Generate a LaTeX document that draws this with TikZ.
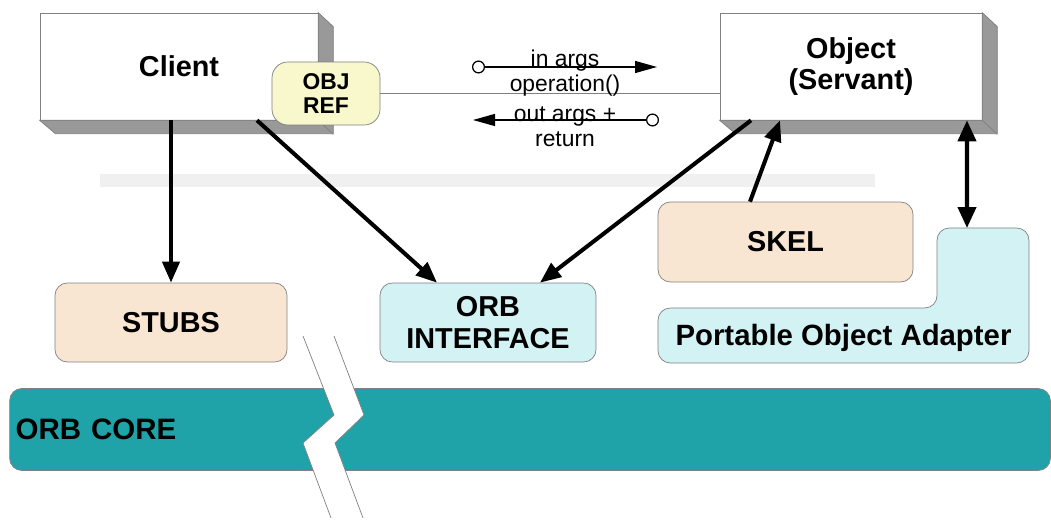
\documentclass[tikz,border=0pt]{standalone}
\usepackage{fontspec}
\setmainfont{Liberation Sans}
\usetikzlibrary{arrows.meta,positioning,calc}

\definecolor{tanfill}{HTML}{F8E6D2}
\definecolor{cyanfill}{HTML}{D2F2F4}
\definecolor{reffill}{HTML}{F8F8CC}
\definecolor{corefill}{HTML}{20A3A8}
\definecolor{sidegray}{HTML}{999999}
\definecolor{edgegray}{HTML}{808080}

\tikzstyle{obj} = [rectangle, draw=edgegray, fill=white, inner sep=0pt,
    align=center, font=\fontsize{16.4}{18}\selectfont\bfseries]
\tikzstyle{block} = [rectangle, draw=edgegray, rounded corners=7pt, inner sep=0pt,
    align=center, font=\fontsize{16.4}{18}\selectfont\bfseries]
\tikzstyle{line} = [draw, line width=2.3pt, -{Triangle[length=0.42cm,width=0.34cm]}]
\tikzstyle{msg} = [draw, line width=0.7pt,
    {Circle[open,length=0.26cm]}-{Triangle[length=0.44cm,width=0.24cm]}]
\tikzstyle{msglabel} = [align=center, inner sep=0pt, font=\fontsize{13}{14.2}\selectfont]

\begin{document}
\begin{tikzpicture}[x=0.02cm, y=-0.02cm]
    \useasboundingbox (0,0) rectangle (1051,520);
    \fill[black!6] (100,174) rectangle (875,187);
    % Place nodes
    \node [obj, minimum width=5.56cm, minimum height=2.14cm] (client) at (179,66.5) {Client};
    \filldraw[fill=sidegray, draw=edgegray] (client.north east) -- ++(15,14) -- ++(0,107) -- ++(-278,0) -- (client.south west) -- (client.south east) -- cycle;
    \draw[edgegray] (client.south east) -- ++(15,14);
    \node [block, fill=reffill, rounded corners=9pt, minimum width=2.16cm, minimum height=1.26cm,
        font=\fontsize{13}{13.8}\selectfont\bfseries] (objref) at (326,93.5) {OBJ\\REF};
    \node [obj, minimum width=5.24cm, minimum height=2.14cm] (object) at (851,66.5) {Object\\(Servant)};
    \filldraw[fill=sidegray, draw=edgegray] (object.north east) -- ++(15,14) -- ++(0,107) -- ++(-262,0) -- (object.south west) -- (object.south east) -- cycle;
    \draw[edgegray] (object.south east) -- ++(15,14);
    \node [block, fill=tanfill, minimum width=5.1cm, minimum height=1.6cm] (skel) at (785.5,242) {SKEL};
    \node [block, fill=tanfill, minimum width=4.64cm, minimum height=1.58cm] (stubs) at (171,322.5) {STUBS};
    \node [block, fill=cyanfill, minimum width=4.32cm, minimum height=1.58cm] (orbif) at (488,322.5) {ORB\\INTERFACE};
    \filldraw[fill=cyanfill, draw=edgegray, rounded corners=7pt] (658,363) -- (658,308) -- (937,308) -- (937,228) -- (1029,228) -- (1029,363) -- cycle;
    \node [font=\fontsize{16.7}{18}\selectfont\bfseries] (poa) at (843.5,338) {Portable Object Adapter};
    \coordinate (poatop) at (967,228);
    \node [block, fill=corefill, minimum height=1.64cm, text width=20.58cm, inner xsep=0.12cm, align=left,
        font=\fontsize{16.8}{18}\selectfont\bfseries] (orbcore) at (530,429.5) {ORB CORE};
    % break in the core
    \fill[white] (303,336) -- (334,415) -- (303,443) -- (331,518) -- (363,518) -- (335,443) -- (364,415) -- (334,336) -- cycle;
    \draw[edgegray, thin] (303,336) -- (334,415) -- (303,443) -- (331,518);
    \draw[edgegray, thin] (334,336) -- (364,415) -- (335,443) -- (363,518);
    % Draw edges
    \path [line] (stubs.north |- client.south) -- (stubs.north);
    \path [line] ([xshift=1.56cm]client.south) -- ([xshift=-1.02cm]orbif.north);
    \path [line] ([xshift=-2.0cm]object.south) -- ([xshift=1.04cm]orbif.north);
    \path [line] ([xshift=-0.71cm]skel.north) -- ([xshift=-1.42cm]object.south);
    \path [line, {Triangle[length=0.42cm,width=0.36cm]}-{Triangle[length=0.42cm,width=0.36cm]}] ([xshift=2.32cm]object.south) -- (poatop);
    % invocation
    \draw[edgegray, line width=0.5pt] (objref.east) -- (objref.east -| object.west);
    \coordinate (callin) at (472,67);
    \coordinate (callout) at (657,67);
    \path [msg] (callin) -- (callout);
    \node [msglabel] (inargs) at (565,73) {in args\\operation()};
    \coordinate (retfrom) at (659,120);
    \coordinate (retto) at (473,120);
    \path [msg] (retfrom) -- (retto);
    \node [msglabel] (outargs) at (565,127) {out args +\\return};
\end{tikzpicture}
\end{document}
